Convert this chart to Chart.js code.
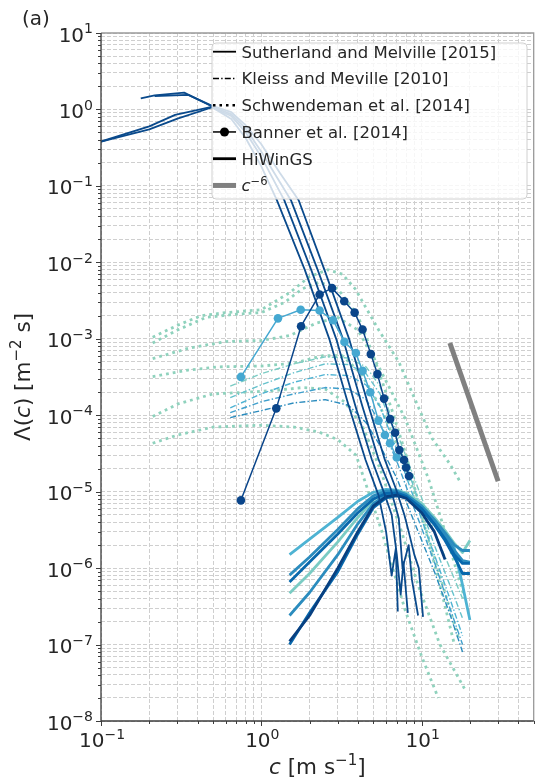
<!DOCTYPE html>
<html>
<head>
<meta charset="utf-8">
<script src="https://cdn.jsdelivr.net/npm/chart.js@4.4.1/dist/chart.umd.min.js"></script>
<style>
  html, body { margin: 0; padding: 0; background: #fff; }
  canvas { display: block; }
</style>
</head>
<body>
<canvas id="spectra" width="538" height="784"></canvas>
<script>
// breaking-crest length distributions Lambda(c), log-log

// axis tick exponents (labels drawn as 10^e)
const xTickExps = [-1, 0, 1];
const yTickExps = [1, 0, -1, -2, -3, -4, -5, -6, -7, -8];

// Sutherland and Melville [2015], [c, Lambda] pairs
const sutherland1 = [[0.1,0.38],[0.2,0.6],[0.29,0.85],[0.49,1.08],[0.65,0.75],[0.8,0.42],[1.0,0.18],[1.25,0.065],[1.87,7.9e-3],[2.67,9.6e-4],[3.5,1.35e-4],[4.47,2.6e-5],[5.38,9e-6],[6.0,3e-6],[6.5,8e-7],[6.9,1.8e-6],[7.1,2.7e-7]];
const sutherland2 = [[0.1,0.38],[0.2,0.55],[0.3,0.76],[0.49,1.06],[0.65,0.82],[0.8,0.5],[1.0,0.24],[1.39,0.065],[2.05,7.9e-3],[2.95,9.6e-4],[3.85,1.35e-4],[4.9,2.6e-5],[5.9,9e-6],[6.5,5e-6],[7.0,1.5e-6],[7.4,4.5e-7],[7.7,1.2e-6],[8.2,2.6e-7]];
const sutherland3 = [[0.177,1.4],[0.216,1.53],[0.33,1.66],[0.49,1.1],[0.65,0.86],[0.8,0.56],[1.0,0.28],[1.53,0.065],[2.25,7.9e-3],[3.25,9.6e-4],[4.25,1.35e-4],[5.4,2.6e-5],[6.4,1.1e-5],[7.2,4.5e-6],[7.6,1e-6],[8.3,2e-6],[8.7,7e-7],[9.5,2.4e-7]];
const sutherland4 = [[0.216,1.5],[0.35,1.55],[0.49,1.12],[0.65,0.92],[0.8,0.62],[1.0,0.35],[1.3,0.15],[1.71,0.065],[2.48,7.9e-3],[3.55,9.6e-4],[4.65,1.35e-4],[5.9,2.6e-5],[6.9,1.1e-5],[7.8,5e-6],[8.3,3e-6],[9.0,1.5e-6],[9.6,1e-6],[10.2,2.3e-7]];

// Kleiss and Melville [2010]
const kleissC = [0.64, 1.0, 1.6, 2.5, 3.5, 4.5, 5.5, 7, 9, 12, 15, 18];
const kleiss1 = [2.4e-4, 3.5e-4, 4.7e-4, 5.8e-4, 5.6e-4, 4.3e-4, 2.4e-4, 6e-5, 1.5e-5, 3e-6, 1e-6, 4e-7];
const kleiss2 = [1.7e-4, 2.5e-4, 3.6e-4, 4.7e-4, 4.6e-4, 3.5e-4, 1.9e-4, 5e-5, 1.1e-5, 2e-6, 6e-7, 2.2e-7];
const kleiss3 = [1.25e-4, 1.9e-4, 2.7e-4, 3.4e-4, 3.3e-4, 2.5e-4, 1.3e-4, 3.5e-5, 8e-6, 1.5e-6, 4e-7, 1.3e-7];
const kleiss4 = [1.08e-4, 1.5e-4, 1.9e-4, 2.3e-4, 2.2e-4, 1.6e-4, 8e-5, 2.5e-5, 6e-6, 1.2e-6, 3e-7, 1e-7];
const kleiss5 = [9.3e-5, 1.15e-4, 1.45e-4, 1.6e-4, 1.35e-4, 8e-5, 4e-5, 1.5e-5, 4e-6, 9e-7, 2.5e-7, 8e-8];

// Schwendeman et al. [2014]
const schwend1 = [[0.21,1.05e-3],[0.3,1.5e-3],[0.42,2.0e-3],[0.6,2.2e-3],[1.0,2.4e-3],[1.5,4e-3],[2.0,6.5e-3],[2.6,8e-3],[3.2,7e-3],[3.85,4.5e-3],[5.4,1.3e-3],[7.2,5e-4],[9.1,1.6e-4],[11.6,5e-5],[15,2.3e-5],[17.2,1.4e-5]];
const schwend2 = [[0.21,8.8e-4],[0.3,1.3e-3],[0.45,1.9e-3],[0.7,2.1e-3],[1.0,2.2e-3],[1.4,3e-3],[1.8,4.5e-3],[2.3,5.5e-3],[3.0,4.5e-3],[4.0,2e-3],[5.0,6e-4],[6.5,1.2e-4],[8,3e-5],[10,5e-6],[13,6e-7],[16,1e-7]];
const schwend3 = [[0.21,5.5e-4],[0.35,7.5e-4],[0.6,9.2e-4],[1.0,9.5e-4],[1.5,1.1e-3],[2.2,1.6e-3],[3.0,1.9e-3],[4.0,1.3e-3],[5.5,4e-4],[7.9,9e-5],[11,1.5e-5],[14,3e-6],[18.6,4e-7]];
const schwend4 = [[0.21,3.2e-4],[0.35,3.9e-4],[0.55,4.3e-4],[1.0,4.4e-4],[1.6,4.8e-4],[2.4,6e-4],[3.2,6e-4],[4.2,3.5e-4],[5.5,1.3e-4],[7.5,3e-5],[10,5e-6],[13,8e-7],[17,1.2e-7]];
const schwend5 = [[0.21,9.6e-5],[0.3,1.4e-4],[0.5,1.9e-4],[0.8,2e-4],[1.2,2.1e-4],[1.8,2.3e-4],[2.5,2.2e-4],[3.3,1.5e-4],[4.3,7e-5],[5.5,2e-5],[7.5,3e-6],[9.5,6e-7],[13,1e-7],[18.6,2.6e-8]];
const schwend6 = [[0.21,4.3e-5],[0.3,5.5e-5],[0.5,7e-5],[1.0,7.4e-5],[1.6,7e-5],[2.3,6e-5],[3.0,4.8e-5],[3.9,3e-5],[5.6,3.2e-6],[7.9,2.8e-7],[10,7e-8],[12.7,2e-8]];

// Banner et al. [2014]
const bannerLightC = [0.746, 1.27, 1.76, 2.31, 2.80, 3.30, 3.89, 4.28, 4.78, 5.38, 5.9, 6.35, 7.0];
const bannerLight = [3.17e-4, 1.85e-3, 2.4e-3, 2.34e-3, 1.75e-3, 9.1e-4, 6.5e-4, 3.8e-4, 2.0e-4, 8.5e-5, 5.5e-5, 4.3e-5, 2.8e-5];
const bannerDarkC = [0.746, 1.24, 1.77, 2.31, 2.76, 3.29, 3.82, 4.28, 4.82, 5.30, 5.83, 6.36, 6.83, 7.26, 7.77, 8.0, 8.34];
const bannerDark = [7.7e-6, 1.23e-4, 1.46e-3, 3.8e-3, 4.6e-3, 3.1e-3, 2.2e-3, 1.32e-3, 6.3e-4, 3.45e-4, 1.65e-4, 8.9e-5, 5.9e-5, 3.5e-5, 2.6e-5, 2.07e-5, 1.6e-5];

// HiWinGS
const hiwingsC = [1.5, 2, 3, 4, 5, 6, 7, 8, 10, 12, 14, 16, 18, 20];
const hiwings1 = [1.5e-6, 2.4e-6, 4.6e-6, 7.5e-6, 9.8e-6, 1.07e-5, 1.05e-5, 9.5e-6, 6.5e-6, 4.2e-6, 2.8e-6, 1.8e-6, 6e-7, 2.1e-7];
const hiwings2 = [8.1e-7, 1.4e-6, 3.2e-6, 6e-6, 8.8e-6, 1.02e-5, 1.02e-5, 9.2e-6, 6.5e-6, 4.3e-6, 2.9e-6, 2e-6, 1.7e-6, 1.7e-6];
const hiwings3 = [6.6e-7, 1.2e-6, 2.8e-6, 5.3e-6, 8e-6, 9.5e-6, 9.6e-6, 8.7e-6, 6e-6, 3.8e-6, 2.4e-6, 1.5e-6, 1.15e-6, 1.15e-6];
const hiwings4 = [4.7e-7, 8.5e-7, 2.2e-6, 4.6e-6, 7.8e-6, 9.8e-6, 1.03e-5, 9.6e-6, 7e-6, 4.6e-6, 3.1e-6, 2.1e-6, 1.6e-6, 2.3e-6];
const hiwings5 = [2.4e-7, 4.8e-7, 1.5e-6, 3.8e-6, 7e-6, 9e-6, 9.3e-6, 8.6e-6, 6.2e-6, 4e-6, 2.6e-6, 1.7e-6, 1.25e-6, 1.2e-6];
const hiwings6 = [1.1e-7, 2.4e-7, 1e-6, 3e-6, 6.5e-6, 8.6e-6, 9e-6, 8.2e-6, 5.3e-6, 3e-6, 1.3e-6];
const hiwings7 = [1e-7, 2.6e-7, 9e-7, 2.8e-6, 6.2e-6, 8.3e-6, 8.8e-6, 8.3e-6, 5.8e-6, 3.7e-6, 2.3e-6, 1.4e-6, 8.5e-7, 8.5e-7];

// c^-6 reference slope
const refC = [15, 30];
const refL = [8.8e-4, 1.37e-5];

const FONT = '"DejaVu Sans", sans-serif';
const TEXT = '#262626';

function pairs(list) {
  return list.map(p => ({x: p[0], y: p[1]}));
}

function zip(cs, ls) {
  return ls.map((v, i) => ({x: cs[i], y: v}));
}

function line(data, color, width, dash) {
  return {
    data: data,
    showLine: true,
    borderColor: color,
    backgroundColor: color,
    borderWidth: width,
    borderDash: dash || [],
    borderCapStyle: 'butt',
    borderJoinStyle: 'round',
    pointRadius: 0,
    pointHoverRadius: 0,
    tension: 0
  };
}

function withDots(data, color) {
  const ds = line(data, color, 1.5);
  ds.pointRadius = 4.3;
  ds.pointBorderWidth = 0;
  ds.pointBackgroundColor = color;
  return ds;
}

const SM = '#0a4a8c';
const DOT = '#8fd2bd';
const DASHDOT = [6, 2.2, 1.4, 2.2];
const DOTTED = [2.8, 4];

// every 1..9 x 10^e between lo and hi
function logTicks(lo, hi) {
  const out = [];
  for (let e = Math.floor(Math.log10(lo)); e <= Math.ceil(Math.log10(hi)); e++) {
    for (let m = 1; m <= 9; m++) {
      const v = m * Math.pow(10, e);
      if (v >= lo * 0.9999 && v <= hi * 1.0001) out.push({value: v});
    }
  }
  return out;
}

function isDecade(v) {
  const l = Math.log10(v);
  return Math.abs(l - Math.round(l)) < 1e-6;
}

// draws text pieces with optional italic / superscript parts
function drawRich(ctx, parts, x, y, align, size) {
  const sup = size * 0.7;
  const fontOf = p => (p.italic ? 'italic ' : '') + (p.sup ? sup : size) + 'px ' + FONT;
  let total = 0;
  parts.forEach(p => { ctx.font = fontOf(p); p.w = ctx.measureText(p.t).width; total += p.w; });
  let cx = align === 'center' ? x - total / 2 : align === 'right' ? x - total : x;
  ctx.textAlign = 'left';
  ctx.textBaseline = 'alphabetic';
  parts.forEach(p => {
    ctx.font = fontOf(p);
    ctx.fillText(p.t, cx, p.sup ? y - size * 0.42 : y);
    cx += p.w;
  });
}

function pow10(e) {
  return [{t: '10'}, {t: String(e).replace('-', '\u2212'), sup: true}];
}

const legendRows = [
  {kind: 'solid', parts: [{t: 'Sutherland and Melville [2015]'}]},
  {kind: 'dashdot', parts: [{t: 'Kleiss and Meville [2010]'}]},
  {kind: 'dotted', parts: [{t: 'Schwendeman et al. [2014]'}]},
  {kind: 'marker', parts: [{t: 'Banner et al. [2014]'}]},
  {kind: 'thick', parts: [{t: 'HiWinGS'}]},
  {kind: 'ref', parts: [{t: 'c', italic: true}, {t: '\u22126', sup: true}]}
];

function drawLegend(ctx) {
  const bx = 212, by = 43, bw = 315, bh = 156, r = 4;
  ctx.save();
  ctx.beginPath();
  ctx.moveTo(bx + r, by);
  ctx.arcTo(bx + bw, by, bx + bw, by + bh, r);
  ctx.arcTo(bx + bw, by + bh, bx, by + bh, r);
  ctx.arcTo(bx, by + bh, bx, by, r);
  ctx.arcTo(bx, by, bx + bw, by, r);
  ctx.closePath();
  ctx.fillStyle = 'rgba(255,255,255,0.8)';
  ctx.fill();
  ctx.strokeStyle = '#d0d0d0';
  ctx.lineWidth = 1;
  ctx.stroke();

  legendRows.forEach((row, i) => {
    const cy = 51.7 + i * 26.75;
    const x0 = 213, x1 = 236;
    ctx.setLineDash([]);
    ctx.strokeStyle = '#000';
    ctx.lineCap = 'butt';
    if (row.kind === 'solid') ctx.lineWidth = 1.8;
    if (row.kind === 'dashdot') { ctx.lineWidth = 1.4; ctx.setLineDash(DASHDOT); }
    if (row.kind === 'dotted') { ctx.lineWidth = 2.5; ctx.setLineDash([2.5, 4]); }
    if (row.kind === 'marker') ctx.lineWidth = 1.5;
    if (row.kind === 'thick') ctx.lineWidth = 2.8;
    if (row.kind === 'ref') { ctx.lineWidth = 5; ctx.strokeStyle = '#808080'; }
    ctx.beginPath();
    ctx.moveTo(x0, cy);
    ctx.lineTo(x1, cy);
    ctx.stroke();
    if (row.kind === 'marker') {
      ctx.fillStyle = '#000';
      ctx.beginPath();
      ctx.arc((x0 + x1) / 2, cy, 4.5, 0, Math.PI * 2);
      ctx.fill();
    }
    ctx.fillStyle = TEXT;
    drawRich(ctx, row.parts, 241.5, cy + 6, 'left', 16.5);
  });
  ctx.restore();
}

const axesPlugin = {
  id: 'axesDecor',
  afterDatasetsDraw(chart) {
    drawLegend(chart.ctx);
  },
  afterDraw(chart) {
    const {ctx, chartArea: a, scales: {x, y}} = chart;
    ctx.save();
    ctx.setLineDash([]);

    // frame: light top/right, dark left/bottom
    ctx.lineWidth = 1.3;
    ctx.strokeStyle = '#9a9a9a';
    ctx.beginPath();
    ctx.moveTo(a.left, a.top); ctx.lineTo(a.right, a.top); ctx.lineTo(a.right, a.bottom);
    ctx.stroke();
    ctx.strokeStyle = '#3c3c3c';
    ctx.beginPath();
    ctx.moveTo(a.left, a.top); ctx.lineTo(a.left, a.bottom); ctx.lineTo(a.right, a.bottom);
    ctx.stroke();

    // tick marks
    ctx.lineWidth = 1;
    ctx.beginPath();
    x.ticks.forEach(t => {
      const px = Math.round(x.getPixelForValue(t.value)) + 0.5;
      const len = isDecade(t.value) ? 5 : 3;
      ctx.moveTo(px, a.bottom); ctx.lineTo(px, a.bottom + len);
    });
    y.ticks.forEach(t => {
      const py = Math.round(y.getPixelForValue(t.value)) + 0.5;
      const len = isDecade(t.value) ? 5 : 3;
      ctx.moveTo(a.left, py); ctx.lineTo(a.left - len, py);
    });
    ctx.stroke();

    // tick labels
    ctx.fillStyle = TEXT;
    xTickExps.forEach(e => {
      const px = x.getPixelForValue(Math.pow(10, e));
      drawRich(ctx, pow10(e), px + 1, a.bottom + 26, 'center', 20);
    });
    yTickExps.forEach(e => {
      const py = y.getPixelForValue(Math.pow(10, e));
      drawRich(ctx, pow10(e), a.left - 8, py + 8.6, 'right', 20);
    });

    // axis titles
    drawRich(ctx, [{t: 'c', italic: true}, {t: ' [m s'}, {t: '\u22121', sup: true}, {t: ']'}],
      (a.left + a.right) / 2, 774, 'center', 21.5);
    ctx.save();
    ctx.translate(30, (a.top + a.bottom) / 2);
    ctx.rotate(-Math.PI / 2);
    drawRich(ctx, [{t: '\u039b('}, {t: 'c', italic: true}, {t: ') [m'}, {t: '\u22122', sup: true}, {t: ' s]'}],
      0, 0, 'center', 21.5);
    ctx.restore();

    // panel tag
    drawRich(ctx, [{t: '(a)'}], 22, 25, 'left', 20);
    ctx.restore();
  }
};

const gridStyle = {color: '#cfcfcf', lineWidth: 1, drawTicks: false};

new Chart(document.getElementById('spectra'), {
  type: 'scatter',
  data: {
    datasets: [
      withDots(zip(bannerDarkC, bannerDark), '#0a458a'),
      withDots(zip(bannerLightC, bannerLight), '#45a8d1'),
      line(pairs(sutherland1), SM, 1.8),
      line(pairs(sutherland2), SM, 1.8),
      line(pairs(sutherland3), SM, 1.8),
      line(pairs(sutherland4), SM, 1.8),
      line(zip(hiwingsC, hiwings6), '#084081', 2.8),
      line(zip(hiwingsC, hiwings7), '#0868ac', 2.8),
      line(zip(hiwingsC, hiwings3), '#0868ac', 2.8),
      line(zip(hiwingsC, hiwings5), '#2b8cbe', 2.8),
      line(zip(hiwingsC, hiwings2), '#2b8cbe', 2.8),
      line(zip(hiwingsC, hiwings4), '#7bccc4', 2.8),
      line(zip(hiwingsC, hiwings1), '#4eb3d3', 2.8),
      line(zip(kleissC, kleiss5), '#2b8cbe', 1.4, DASHDOT),
      line(zip(kleissC, kleiss4), '#3f9fcc', 1.4, DASHDOT),
      line(zip(kleissC, kleiss3), '#4eb3d3', 1.4, DASHDOT),
      line(zip(kleissC, kleiss2), '#66c2cc', 1.4, DASHDOT),
      line(zip(kleissC, kleiss1), '#7bccc4', 1.4, DASHDOT),
      line(pairs(schwend1), DOT, 2.8, DOTTED),
      line(pairs(schwend2), DOT, 2.8, DOTTED),
      line(pairs(schwend3), DOT, 2.8, DOTTED),
      line(pairs(schwend4), DOT, 2.8, DOTTED),
      line(pairs(schwend5), DOT, 2.8, DOTTED),
      line(pairs(schwend6), DOT, 2.8, DOTTED),
      line(zip(refC, refL), '#808080', 5)
    ]
  },
  options: {
    responsive: false,
    animation: false,
    devicePixelRatio: 1,
    events: [],
    layout: {padding: {left: 101, right: 2, top: 33, bottom: 63}},
    plugins: {legend: {display: false}, tooltip: {enabled: false}},
    scales: {
      x: {
        type: 'logarithmic', min: 0.1, max: 50,
        afterBuildTicks: s => { s.ticks = logTicks(0.1, 50); },
        ticks: {display: false},
        grid: gridStyle,
        border: {display: false, dash: [4, 2]}
      },
      y: {
        type: 'logarithmic', min: 1e-8, max: 10,
        afterBuildTicks: s => { s.ticks = logTicks(1e-8, 10); },
        ticks: {display: false},
        grid: gridStyle,
        border: {display: false, dash: [4, 2]}
      }
    }
  },
  plugins: [axesPlugin]
});
</script>
</body>
</html>
